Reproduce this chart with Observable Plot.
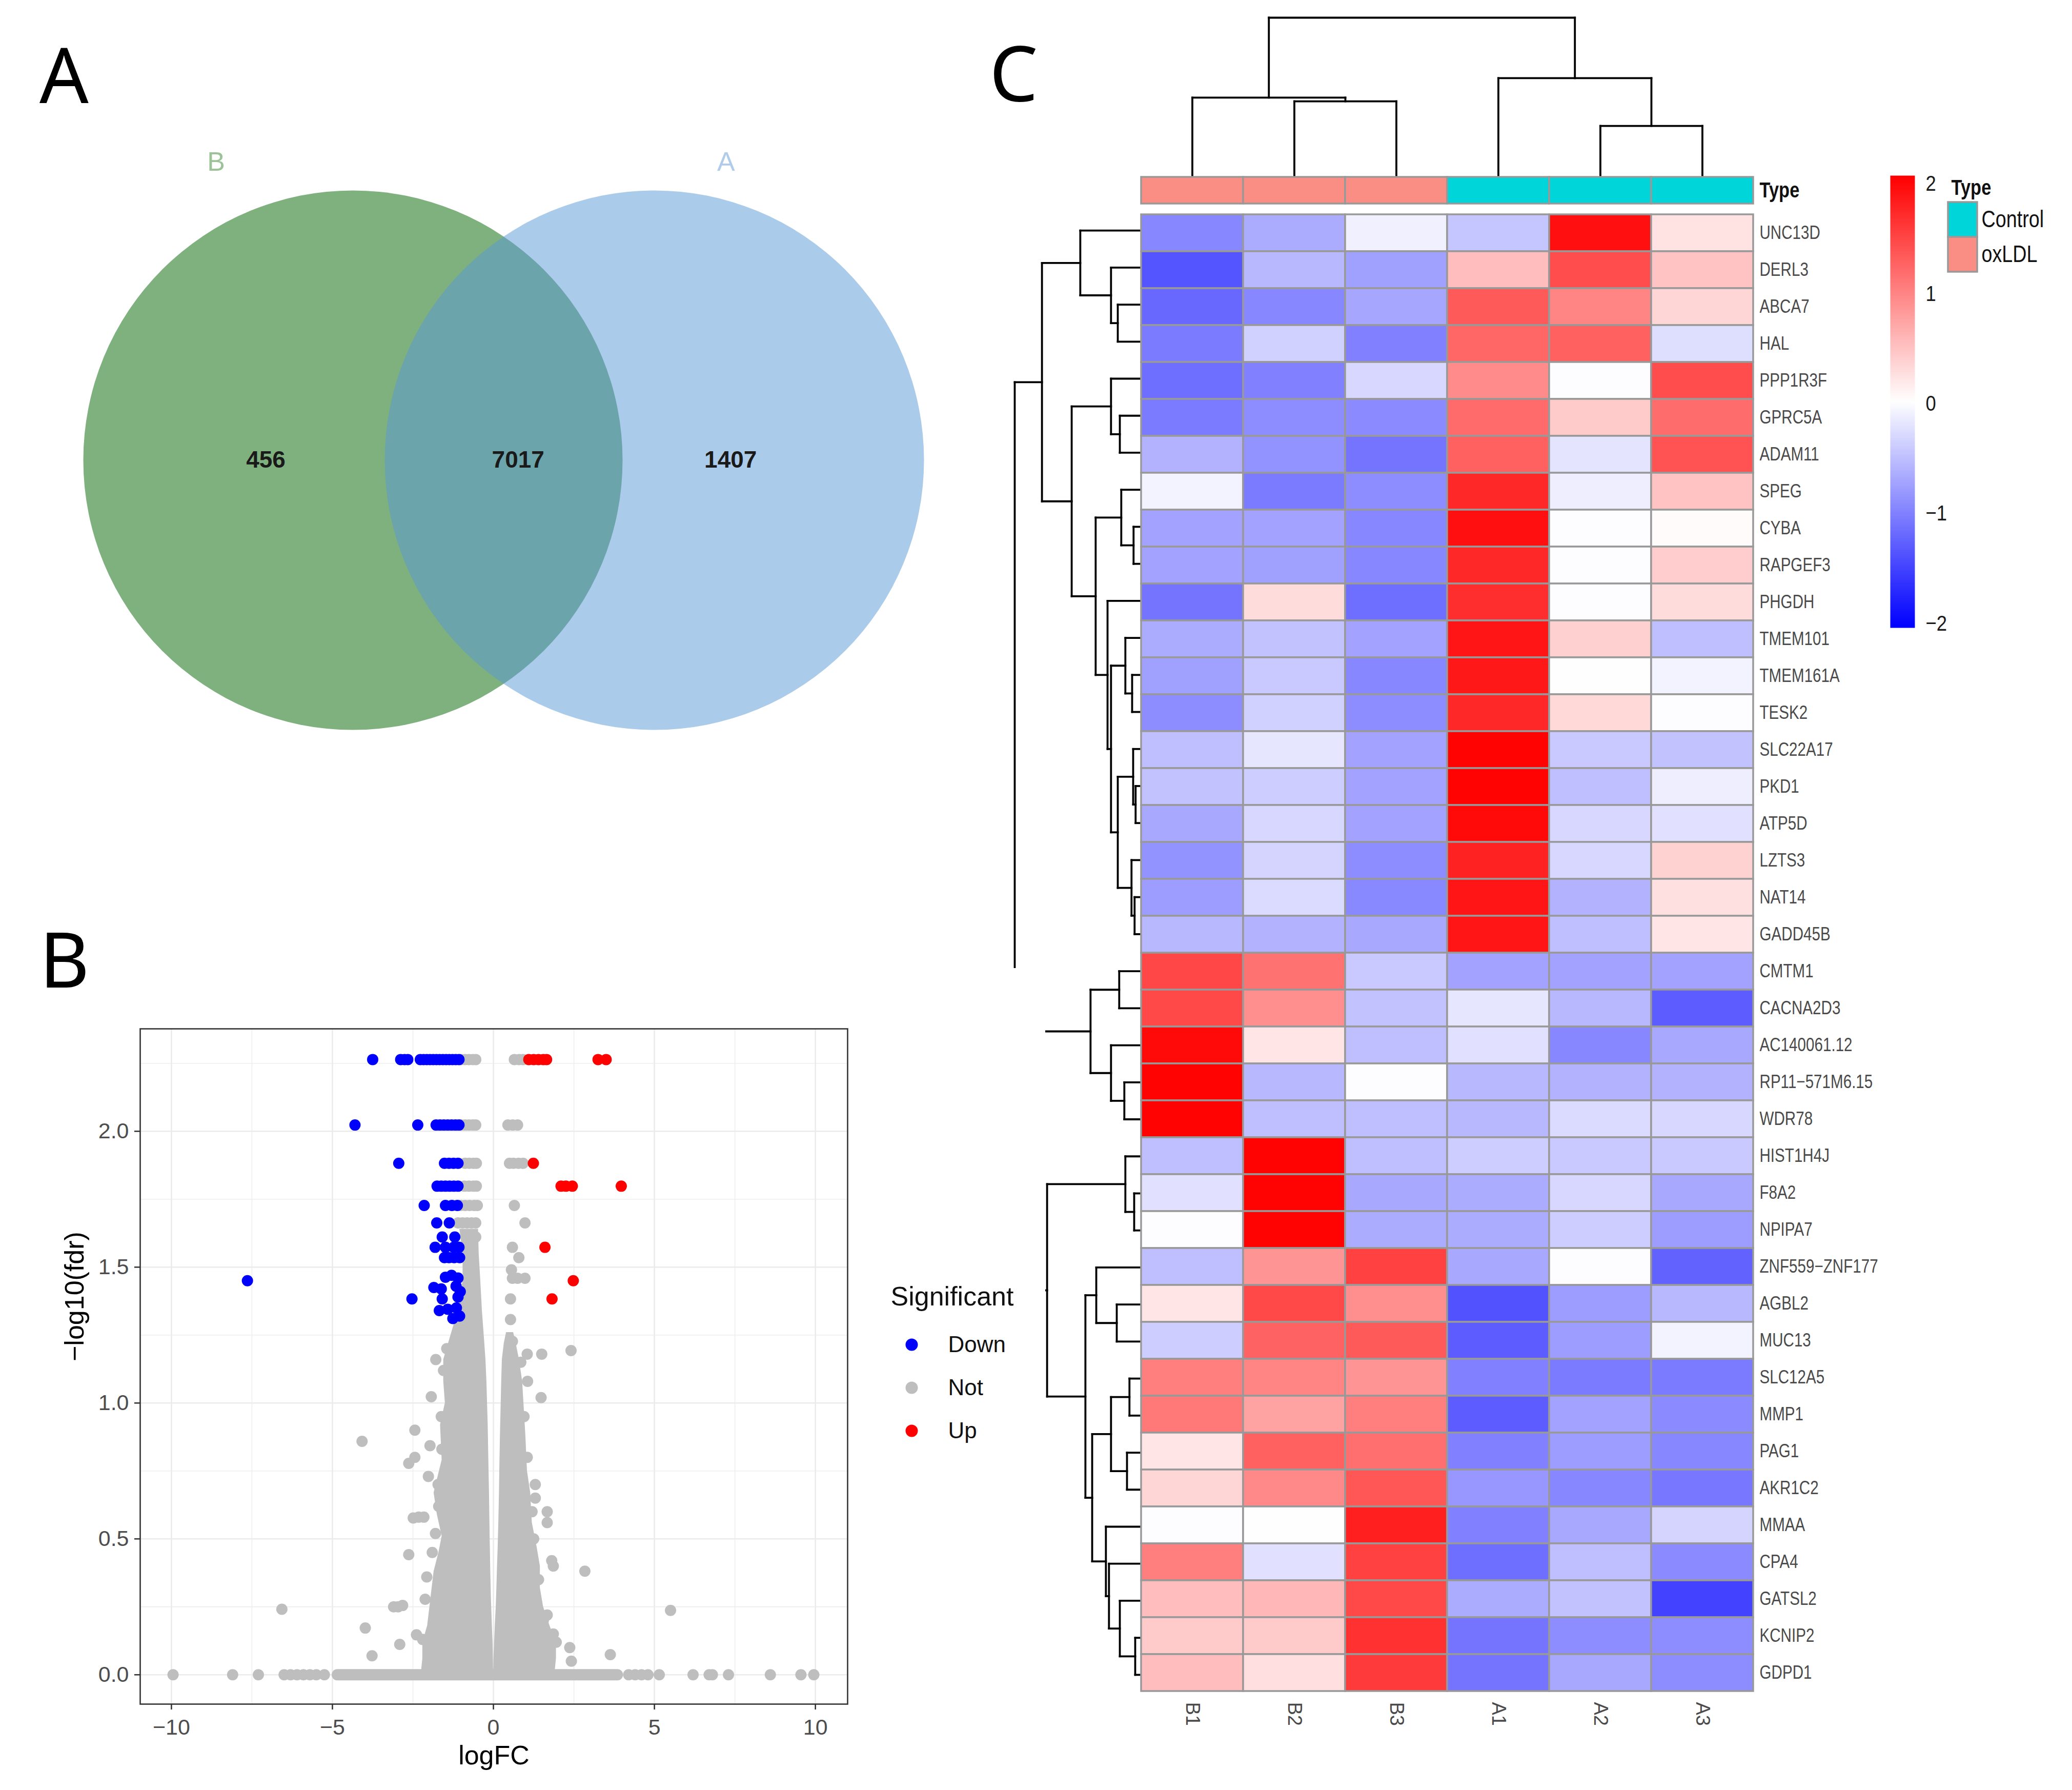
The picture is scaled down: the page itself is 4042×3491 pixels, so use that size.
<!DOCTYPE html>
<html>
<head>
<meta charset="utf-8">
<script src="https://cdn.jsdelivr.net/npm/d3@7"></script>
<script src="https://cdn.jsdelivr.net/npm/@observablehq/plot@0.6"></script>
<style>
html, body { margin: 0; padding: 0; background: #fff; }
#page { position: relative; width: 4042px; height: 3491px; overflow: hidden; background: #fff; }
#page > svg { position: absolute; }
</style>
</head>
<body>
<div id="page"></div>
<script>
// ---------------- DATA ----------------
// Panel A: Venn
const vennSets = ["B", "A"];
const vennOnly = [456, 1407];
const vennShared = 7017;

// Panel B: volcano  ([logFC, -log10(fdr)])
const sigLevels = ["Down", "Not", "Up"];
const downGenes = [
  [-3.75,2.264],[-2.88,2.264],[-2.76,2.264],[-2.66,2.264],[-2.27,2.264],[-2.17,2.264],[-2.07,2.264],[-1.97,2.264],[-1.87,2.264],[-1.77,2.264],[-1.67,2.264],[-1.57,2.264],[-1.47,2.264],[-1.37,2.264],[-1.27,2.264],[-1.17,2.264],[-1.07,2.264],
  [-4.30,2.023],[-2.35,2.023],[-1.78,2.023],[-1.66,2.023],[-1.54,2.023],[-1.42,2.023],[-1.30,2.023],[-1.18,2.023],[-1.07,2.023],
  [-2.94,1.882],[-1.52,1.882],[-1.38,1.882],[-1.24,1.882],[-1.10,1.882],
  [-1.75,1.798],[-1.62,1.798],[-1.49,1.798],[-1.36,1.798],[-1.23,1.798],[-1.10,1.798],
  [-2.15,1.727],[-1.49,1.727],[-1.29,1.727],[-1.12,1.727],
  [-1.76,1.663],[-1.37,1.663],[-1.59,1.611],[-1.20,1.611],
  [-1.81,1.573],[-1.49,1.573],[-1.23,1.573],[-1.07,1.573],
  [-1.52,1.535],[-1.38,1.535],[-1.22,1.535],[-1.05,1.535],
  [-1.49,1.463],[-1.30,1.470],[-1.10,1.460],
  [-1.85,1.425],[-1.62,1.420],[-1.16,1.430],[-1.03,1.410],
  [-2.53,1.383],[-1.59,1.383],[-1.10,1.390],
  [-1.68,1.340],[-1.42,1.345],[-1.15,1.350],[-1.26,1.311],[-1.05,1.320],
  [-7.64,1.450]
];
const upGenes = [
  [1.10,2.264],[1.25,2.264],[1.40,2.264],[1.55,2.264],[1.65,2.264],[3.25,2.264],[3.50,2.264],
  [1.24,1.882],[2.10,1.798],[2.25,1.798],[2.45,1.798],[3.97,1.798],
  [1.60,1.573],[2.48,1.450],[1.82,1.383]
];
const notGenes = [
  [-1.0,2.264],[-0.88,2.264],[-0.76,2.264],[-0.64,2.264],[-0.55,2.264],[0.65,2.264],[0.80,2.264],[0.92,2.264],
  [-1.0,2.023],[-0.88,2.023],[-0.76,2.023],[-0.64,2.023],[-0.55,2.023],[0.45,2.023],[0.60,2.023],[0.75,2.023],
  [-0.88,1.882],[-0.75,1.882],[-0.62,1.882],[-0.53,1.882],[0.50,1.882],[0.62,1.882],[0.78,1.882],[0.92,1.882],
  [-0.90,1.798],[-0.76,1.798],[-0.62,1.798],[-0.53,1.798],
  [-1.02,1.727],[-0.88,1.727],[-0.74,1.727],[-0.60,1.727],[-0.50,1.727],[0.65,1.727],
  [-1.10,1.663],[-0.96,1.663],[-0.82,1.663],[-0.68,1.663],[-0.55,1.663],[0.98,1.663],
  [-0.85,1.611],[-0.70,1.611],[-0.55,1.611],
  [0.59,1.573],[0.79,1.535],[0.56,1.490],[0.59,1.459],[0.75,1.459],[0.98,1.459],[0.53,1.383],[0.53,1.307],[0.59,1.227],[1.05,1.180],[1.50,1.180],[2.41,1.193],
  [-1.79,1.160],[-1.93,1.023],[-1.97,0.843],[-2.02,0.730],[-2.44,0.900],[-2.63,0.778],[-2.44,0.800],[-2.49,0.577],[-2.32,0.580],[-2.16,0.580],[-2.63,0.442],[-2.07,0.360],[-2.12,0.278],[-3.10,0.250],[-2.96,0.250],[-2.82,0.255],[-2.39,0.147],[-2.91,0.112],[-2.20,0.130],[-4.08,0.859],[-6.57,0.241],[-3.98,0.172],[-3.77,0.070],
  [-1.62,0.950],[-1.70,0.620],[-1.90,0.450],[-1.85,0.200],[-1.75,0.300],[-1.60,0.830],[-1.55,1.120],[-1.45,1.200],[-1.80,0.520],[-1.72,0.700],
  [1.06,1.080],[1.48,1.020],[1.30,0.700],[1.30,0.650],[1.67,0.600],[1.67,0.560],[1.81,0.420],[1.86,0.400],[2.84,0.381],[1.67,0.220],[1.86,0.150],[1.95,0.120],[2.37,0.100],[2.42,0.050],[3.63,0.074],[5.50,0.237],
  [1.20,0.600],[1.40,0.350],[1.55,0.200],[1.05,0.800],[0.95,0.950],[1.70,0.100],[1.25,0.500],[0.85,1.150],
  [-9.95,0],[-8.10,0],[-7.30,0],[-6.50,0],[-6.30,0],[-6.10,0],[-5.90,0],[-5.70,0],[-5.50,0],[-5.25,0],[4.20,0],[4.40,0],[4.60,0],[4.80,0],[5.15,0],[6.20,0],[6.70,0],[6.80,0],[7.30,0],[8.60,0],[9.55,0],[9.95,0]
];
// dense "Not" cloud read as envelopes: [fdr, logFC from, logFC to]
const notLeftArm = [
  [0.00,-2.25,0.00],[0.06,-2.20,-0.01],[0.12,-2.20,-0.02],[0.18,-2.05,-0.04],[0.28,-1.95,-0.07],[0.38,-1.85,-0.09],
  [0.45,-1.70,-0.10],[0.51,-1.60,-0.11],[0.59,-1.75,-0.12],[0.67,-1.85,-0.13],[0.79,-1.60,-0.15],[0.92,-1.65,-0.17],
  [1.00,-1.50,-0.19],[1.08,-1.55,-0.21],[1.16,-1.55,-0.24],[1.26,-1.30,-0.30],[1.34,-1.10,-0.35],[1.45,-0.95,-0.40],
  [1.55,-0.95,-0.45],[1.64,-1.05,-0.47]
];
const notRightArm = [
  [0.00,0.00,1.90],[0.06,0.01,1.95],[0.12,0.03,1.95],[0.18,0.05,1.75],[0.25,0.08,1.55],[0.32,0.10,1.45],
  [0.40,0.12,1.45],[0.47,0.14,1.35],[0.56,0.16,1.20],[0.67,0.18,1.15],[0.75,0.19,1.05],[0.88,0.21,1.00],
  [0.98,0.23,0.95],[1.08,0.25,0.90],[1.16,0.27,0.80],[1.22,0.33,0.70],[1.26,0.40,0.62]
];
const notBaseRun = [[-4.85, 3.85]];   // continuous run of genes at fdr = 1
const xMajor = [-10, -5, 0, 5, 10];
const xMinor = [-7.5, -2.5, 2.5, 7.5];
const yMajor = [0, 0.5, 1, 1.5, 2];
const yMinor = [0.25, 0.75, 1.25, 1.75, 2.25];

// Panel C: heatmap
const samples = ["B1", "B2", "B3", "A1", "A2", "A3"];
const sampleType = ["oxLDL", "oxLDL", "oxLDL", "Control", "Control", "Control"];
const typeLevels = ["Control", "oxLDL"];
const genes = ["UNC13D","DERL3","ABCA7","HAL","PPP1R3F","GPRC5A","ADAM11","SPEG","CYBA","RAPGEF3","PHGDH","TMEM101","TMEM161A","TESK2","SLC22A17","PKD1","ATP5D","LZTS3","NAT14","GADD45B","CMTM1","CACNA2D3","AC140061.12","RP11\u2212571M6.15","WDR78","HIST1H4J","F8A2","NPIPA7","ZNF559\u2212ZNF177","AGBL2","MUC13","SLC12A5","MMP1","PAG1","AKR1C2","MMAA","CPA4","GATSL2","KCNIP2","GDPD1"];
const exprB1 = [-0.95,-1.35,-1.2,-1.05,-1.15,-1.05,-0.6,-0.08,-0.72,-0.72,-1.1,-0.65,-0.75,-0.9,-0.5,-0.47,-0.68,-0.85,-0.77,-0.55,1.5,1.48,2.0,2.05,2.05,-0.5,-0.22,0,-0.5,0.23,-0.38,1.05,1.1,0.23,0.35,0,1.05,0.55,0.45,0.55];
const exprB2 = [-0.65,-0.55,-0.95,-0.35,-1.0,-0.9,-0.85,-1.05,-0.72,-0.75,0.3,-0.47,-0.42,-0.35,-0.18,-0.38,-0.3,-0.33,-0.27,-0.6,1.15,0.92,0.23,-0.55,-0.5,2.05,2.05,2.05,0.88,1.48,1.28,1.0,0.77,1.3,0.97,0.03,-0.22,0.6,0.45,0.28];
const exprB3 = [-0.1,-0.75,-0.7,-1.0,-0.3,-0.92,-1.1,-0.9,-0.95,-0.95,-1.15,-0.72,-0.95,-0.9,-0.72,-0.72,-0.72,-0.9,-0.93,-0.68,-0.42,-0.47,-0.5,0,-0.5,-0.5,-0.68,-0.65,1.55,0.92,1.35,0.88,1.05,1.18,1.38,1.82,1.55,1.48,1.68,1.6];
const exprA1 = [-0.45,0.55,1.35,1.25,0.95,1.22,1.3,1.75,1.95,1.75,1.7,1.9,1.88,1.75,2.05,2.05,2.0,1.8,1.9,1.9,-0.72,-0.18,-0.22,-0.55,-0.55,-0.38,-0.65,-0.65,-0.68,-1.38,-1.3,-1.0,-1.3,-1.0,-0.82,-1.0,-1.15,-0.65,-1.1,-1.1];
const exprA2 = [1.95,1.45,1.0,1.3,0,0.45,-0.2,-0.12,0,0,0,0.4,0.03,0.33,-0.42,-0.5,-0.3,-0.3,-0.6,-0.5,-0.72,-0.55,-0.95,-0.6,-0.27,-0.42,-0.3,-0.38,0,-0.77,-0.77,-1.05,-0.72,-0.77,-0.95,-0.68,-0.5,-0.47,-0.9,-0.68];
const exprA3 = [0.25,0.5,0.35,-0.25,1.45,1.2,1.4,0.5,0.05,0.42,0.3,-0.5,-0.08,0,-0.47,-0.12,-0.22,0.38,0.27,0.23,-0.72,-1.3,-0.68,-0.6,-0.3,-0.42,-0.68,-0.77,-1.25,-0.55,-0.08,-1.05,-0.92,-0.95,-1.08,-0.33,-0.92,-1.5,-0.9,-0.9];
const colorTicks = [-2, -1, 0, 1, 2];
const scaleRange = [-2.04, 2.075];
// dendrograms, hclust style merges: [a, b, height]; negative = leaf (1-based), positive = earlier merge
const rowMerge = [
  [-3,-4,1.15],[-2,1,1.48],[-1,2,2.98],[-6,-7,1.05],[-5,4,1.48],[-9,-10,0.38],[-8,6,0.98],[-13,-14,0.45],[-12,8,0.78],[-16,-17,0.28],
  [-15,10,0.40],[-19,-20,0.33],[-18,12,0.48],[11,13,1.15],[9,14,1.48],[-11,15,1.65],[7,16,2.23],[5,17,3.40],[3,18,4.85],[-21,-22,1.08],
  [-24,-25,0.83],[-23,21,1.48],[20,22,2.48],[-27,-28,0.35],[-26,24,0.78],[-30,-31,1.20],[-29,26,2.20],[-32,-33,0.58],[-34,-35,0.70],[28,29,1.48],
  [-39,-40,0.30],[-38,31,1.05],[-37,32,1.58],[-36,33,1.73],[30,34,2.40],[27,35,2.73],[25,36,4.60],[23,37,4.75],[19,38,6.18]
];
const colMerge = [[-2,-3,3.65],[-1,1,3.83],[-5,-6,2.45],[-4,3,4.78],[2,4,7.73]];

// ---------------- STYLE ----------------
const SANS = '"Liberation Sans", Arial, Helvetica, sans-serif';
const sigColors = ["#0000FF", "#BEBEBE", "#FF0000"];
const typeColors = ["#00D5DA", "#FA8E85"];
const heatColor = {type: "linear", domain: [-2.04, 0.02, 2.07], range: ["#0000FF", "#FFFFFF", "#FF0000"], interpolate: "rgb", clamp: true};
const cellBorder = "#999999";
const minusFormat = d => d < 0 ? "\u2212" + (-d) : String(d);

const page = document.getElementById("page");
function place(node, left, top) {
  node.style.position = "absolute";
  node.style.left = left + "px";
  node.style.top = top + "px";
  page.appendChild(node);
  return node;
}
// condense rendered texts horizontally (the figure's labels use a narrow face)
function squeeze(root, selector, factor) {
  root.querySelectorAll(selector).forEach(t => {
    const L = t.getComputedTextLength();
    if (L > 0) {
      t.setAttribute("textLength", (L * factor).toFixed(1));
      t.setAttribute("lengthAdjust", "spacingAndGlyphs");
    }
  });
}
function baseStyle(extra) {
  return Object.assign({background: "transparent", overflow: "visible", fontFamily: SANS, fontSize: "30px", color: "#000"}, extra || {});
}
function dendroSegments(merges) {
  const nodes = [], segs = [];
  const get = (k) => k < 0 ? {p: -k - 0.5, h: 0} : nodes[k - 1];
  for (const [a, b, h] of merges) {
    const A = get(a), B = get(b);
    segs.push({p1: A.p, h1: A.h, p2: A.p, h2: h});
    segs.push({p1: B.p, h1: B.h, p2: B.p, h2: h});
    segs.push({p1: A.p, h1: h, p2: B.p, h2: h});
    nodes.push({p: (A.p + B.p) / 2, h});
  }
  return segs;
}

// ---------------- PANEL A : VENN ----------------
const vennLayout = {onlyX: [-0.289, 1.253], sharedX: 0.548, nameX: [-0.454, 1.238], radiusPx: 526};
const vennCounts = [
  {n: vennOnly[0], x: vennLayout.onlyX[0]},
  {n: vennShared, x: vennLayout.sharedX},
  {n: vennOnly[1], x: vennLayout.onlyX[1]}
];
const venn = Plot.plot({
  width: 1950, height: 1480,
  marginLeft: 688, marginRight: 674, marginTop: 316, marginBottom: 583,
  x: {domain: [0, 1], axis: null},
  y: {domain: [0, 1], axis: null},
  color: {domain: vennSets, range: ["#006400", "#5797D5"]},
  style: baseStyle(),
  marks: [
    Plot.dot(vennSets, {x: (d, i) => i, y: () => 0, r: vennLayout.radiusPx, fill: d => d, fillOpacity: 0.5, stroke: null}),
    Plot.text(vennCounts, {x: "x", y: () => 0, text: d => String(d.n), fontSize: 46, fontWeight: "bold", fill: "#1a1a1a"}),
    Plot.text([vennSets[0]], {x: () => vennLayout.nameX[0], y: () => 1, text: d => d, fontSize: 52, fill: "#9CC297"}),
    Plot.text([vennSets[1]], {x: () => vennLayout.nameX[1], y: () => 1, text: d => d, fontSize: 52, fill: "#AFCCEA"})
  ]
});
place(venn, 0, 0);

// ---------------- PANEL C : HEATMAP ----------------
const HM = {left: 2226, top: 413, width: 1194, height: 2889};
const exprBySample = [exprB1, exprB2, exprB3, exprA1, exprA2, exprA3];
const cells = [];
genes.forEach((g, i) => samples.forEach((s, j) => cells.push({gene: g, sample: s, value: exprBySample[j][i]})));

const rowDendro = Plot.plot({
  width: 258, height: HM.height,
  marginLeft: 9, marginRight: 2, marginTop: 0, marginBottom: 0,
  x: {domain: [6.18, 0], axis: null},
  y: {domain: [0, genes.length], reverse: true, axis: null},
  style: baseStyle(),
  marks: [
    Plot.link(dendroSegments(rowMerge), {x1: "h1", x2: "h2", y1: "p1", y2: "p2", stroke: "#000", strokeWidth: 3.8, strokeLinecap: "square"})
  ]
});
place(rowDendro, HM.left - 256, HM.top);

const colDendro = Plot.plot({
  width: HM.width, height: 345,
  marginLeft: 0, marginRight: 0, marginTop: 34, marginBottom: 2,
  x: {domain: [0, samples.length], axis: null},
  y: {domain: [0, 7.73], axis: null},
  style: baseStyle(),
  marks: [
    Plot.link(dendroSegments(colMerge), {x1: "p1", x2: "p2", y1: "h1", y2: "h2", stroke: "#000", strokeWidth: 3.8, strokeLinecap: "square"})
  ]
});
place(colDendro, HM.left, 0);

const annot = Plot.plot({
  width: 4 + HM.width + 200, height: 4 + 52 + 4,
  marginLeft: 4, marginRight: 200, marginTop: 4, marginBottom: 4,
  x: {domain: samples, padding: 0, axis: null},
  y: {domain: ["Type"], padding: 0},
  color: {domain: typeLevels, range: typeColors},
  style: baseStyle(),
  marks: [
    Plot.cell(samples, {x: d => d, y: () => "Type", fill: (d, i) => sampleType[i], stroke: cellBorder, strokeWidth: 3.5}),
    Plot.axisY({anchor: "right", tickSize: 0, tickPadding: 12, fontSize: 42, fontWeight: "bold", fill: "#111", label: null})
  ]
});
place(annot, HM.left - 4, 341);
squeeze(annot, "text", 0.82);

const heat = Plot.plot({
  width: 4 + HM.width + 330, height: 4 + HM.height + 110,
  marginLeft: 4, marginRight: 330, marginTop: 4, marginBottom: 110,
  x: {domain: samples, padding: 0},
  y: {domain: genes, padding: 0},
  color: heatColor,
  style: baseStyle(),
  marks: [
    Plot.cell(cells, {x: "sample", y: "gene", fill: "value", stroke: cellBorder, strokeWidth: 3.5}),
    Plot.axisY({anchor: "right", tickSize: 0, tickPadding: 12, fontSize: 37, fill: "#4a4a4a", label: null}),
    Plot.axisX({anchor: "bottom", tickSize: 0, tickPadding: 17, tickRotate: 90, fontSize: 38, fill: "#4a4a4a", label: null})
  ]
});
place(heat, HM.left - 4, HM.top - 4);
squeeze(heat, 'g[aria-label="y-axis tick label"] text', 0.80);

const colorBar = Plot.plot({
  width: 130, height: 910,
  marginLeft: 7, marginRight: 75, marginTop: 12, marginBottom: 16,
  x: {domain: [0, 1], axis: null},
  y: {domain: scaleRange},
  color: heatColor,
  style: baseStyle(),
  marks: [
    Plot.raster({x1: 0, x2: 1, y1: scaleRange[0], y2: scaleRange[1], width: 1, height: 400, fill: (x, y) => y}),
    Plot.axisY({anchor: "right", ticks: colorTicks, tickFormat: minusFormat, tickSize: 0, tickPadding: 21, fontSize: 43, fill: "#1a1a1a", label: null})
  ]
});
place(colorBar, 3680, 330);
squeeze(colorBar, "text", 0.85);

const typeLegend = Plot.plot({
  width: 245, height: 205,
  marginLeft: 5, marginRight: 183, marginTop: 64, marginBottom: 5,
  x: {domain: ["key"], padding: 0, axis: null},
  y: {domain: typeLevels, padding: 0},
  color: {domain: typeLevels, range: typeColors},
  style: baseStyle(),
  marks: [
    Plot.cell(typeLevels, {x: () => "key", y: d => d, fill: d => d, stroke: cellBorder, strokeWidth: 3.5}),
    Plot.axisY({anchor: "right", tickSize: 0, tickPadding: 8, fontSize: 46, fill: "#111", label: null}),
    Plot.text(["Type"], {frameAnchor: "top-left", dx: 6, dy: -15, lineAnchor: "bottom", textAnchor: "start", fontSize: 42, fontWeight: "bold", fill: "#111"})
  ]
});
place(typeLegend, 3795, 330);
squeeze(typeLegend, "text", 0.82);

// ---------------- PANEL B : VOLCANO ----------------
const volcano = Plot.plot({
  width: 2039, height: 1603,
  marginLeft: 273, marginRight: 386, marginTop: 118, marginBottom: 168,
  x: {domain: [-10.97, 11.0]},
  y: {domain: [-0.108, 2.377]},
  color: {domain: sigLevels, range: sigColors},
  style: baseStyle({background: "#ffffff"}),
  marks: [
    Plot.ruleX(xMinor, {stroke: "#EBEBEB", strokeWidth: 1.3}),
    Plot.ruleY(yMinor, {stroke: "#EBEBEB", strokeWidth: 1.3}),
    Plot.ruleX(xMajor, {stroke: "#EBEBEB", strokeWidth: 2.6}),
    Plot.ruleY(yMajor, {stroke: "#EBEBEB", strokeWidth: 2.6}),
    Plot.areaX(notLeftArm, {y: d => d[0], x1: d => d[1], x2: d => d[2], fill: () => "Not", curve: "linear"}),
    Plot.areaX(notRightArm, {y: d => d[0], x1: d => d[1], x2: d => d[2], fill: () => "Not", curve: "linear"}),
    Plot.link(notBaseRun, {x1: d => d[0], x2: d => d[1], y1: () => 0, y2: () => 0, stroke: () => "Not", strokeWidth: 22, strokeLinecap: "round"}),
    Plot.dot(notGenes, {x: d => d[0], y: d => d[1], r: 11, fill: () => "Not", stroke: null}),
    Plot.dot(downGenes, {x: d => d[0], y: d => d[1], r: 11, fill: () => "Down", stroke: null}),
    Plot.dot(upGenes, {x: d => d[0], y: d => d[1], r: 11, fill: () => "Up", stroke: null}),
    Plot.frame({stroke: "#333", strokeWidth: 2.6}),
    Plot.axisX({ticks: xMajor, tickSize: 11, tickPadding: 18, strokeWidth: 2.6, stroke: "#333", fill: "#4D4D4D", fontSize: 43, label: null}),
    Plot.axisY({ticks: yMajor, tickSize: 11, tickPadding: 11, strokeWidth: 2.6, stroke: "#333", fill: "#4D4D4D", fontSize: 43, tickFormat: d3.format(".1f"), label: null}),
    Plot.text(["logFC"], {frameAnchor: "bottom", dy: 101, lineAnchor: "middle", fontSize: 52, fill: "#000"}),
    Plot.text(["\u2212log10(fdr)"], {frameAnchor: "left", dx: -127, dy: -10, rotate: -90, lineAnchor: "middle", fontSize: 52, fill: "#000"})
  ]
});
place(volcano, 0, 1888);

const volcLegend = Plot.plot({
  width: 330, height: 370,
  marginLeft: 78, marginRight: 181, marginTop: 0, marginBottom: 0,
  x: {domain: [0, 1], axis: null},
  y: {type: "point", domain: sigLevels, range: [151, 320], padding: 0, axis: null},
  color: {domain: sigLevels, range: sigColors},
  style: baseStyle(),
  marks: [
    Plot.dot(sigLevels, {x: () => 0, y: d => d, fill: d => d, r: 12, stroke: null}),
    Plot.text(sigLevels, {x: () => 1, y: d => d, text: d => d, textAnchor: "start", fontSize: 44, fill: "#111"}),
    Plot.text(["Significant"], {frameAnchor: "top-left", dx: -41, dy: 75, lineAnchor: "bottom", textAnchor: "start", fontSize: 52, fill: "#111"})
  ]
});
place(volcLegend, 1700, 2470);

// ---------------- PANEL LABELS ----------------
const labels = d3.create("svg").attr("width", 4042).attr("height", 3491)
  .style("left", "0px").style("top", "0px").style("position", "absolute").style("pointer-events", "none");
[["A", 77, 201], ["B", 77, 1926], ["C", 1930, 198]].forEach(([t, x, y]) => {
  labels.append("text").attr("x", x).attr("y", y).text(t)
    .attr("font-family", '"Noto Sans", "Open Sans", sans-serif').attr("font-size", 150).attr("fill", "#000");
});
page.appendChild(labels.node());
</script>
</body>
</html>
